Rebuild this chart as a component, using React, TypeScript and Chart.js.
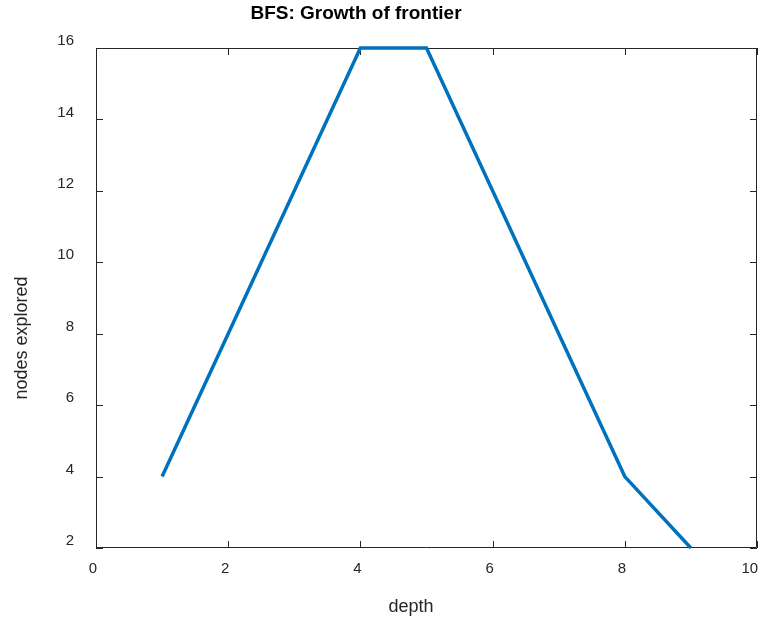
import React, { useEffect, useRef } from "react";
import { Chart, registerables } from "chart.js";

Chart.register(...registerables);

const depths = [1, 2, 3, 4, 5, 6, 7, 8, 9];
const nodesExplored = [4, 8, 12, 16, 16, 12, 8, 4, 2];
const titleText = "BFS: Growth of frontier";
const xLabel = "depth";
const yLabel = "nodes explored";

const AXIS_COLOR = "#262626";
const FONT = "'Liberation Sans', Arial, sans-serif";

const framePlugin = {
  id: "matlabFrame",
  beforeDatasetsDraw(chart: any) {
    const { ctx, chartArea, scales } = chart;
    const { left, right, top, bottom } = chartArea;
    ctx.save();
    ctx.strokeStyle = AXIS_COLOR;
    ctx.lineWidth = 1;
    ctx.beginPath();
    ctx.rect(left + 0.5, top + 0.5, right - left - 1, bottom - top - 1);
    ctx.stroke();
    const tl = 7;
    ctx.beginPath();
    scales.x.ticks.forEach((t: any) => {
      const px = Math.round(scales.x.getPixelForValue(t.value)) + 0.5;
      ctx.moveTo(px, bottom);
      ctx.lineTo(px, bottom - tl);
      ctx.moveTo(px, top);
      ctx.lineTo(px, top + tl);
    });
    scales.y.ticks.forEach((t: any) => {
      const py = Math.round(scales.y.getPixelForValue(t.value)) + 0.5;
      ctx.moveTo(left, py);
      ctx.lineTo(left + tl, py);
      ctx.moveTo(right, py);
      ctx.lineTo(right - tl, py);
    });
    ctx.stroke();

    ctx.fillStyle = "#000";
    ctx.textAlign = "center";
    ctx.textBaseline = "middle";
    ctx.font = `bold 19px ${FONT}`;
    ctx.fillText(titleText, 356, 14);
    ctx.fillStyle = AXIS_COLOR;
    ctx.font = `18px ${FONT}`;
    ctx.fillText(xLabel, 411, 607);
    ctx.translate(22, 338);
    ctx.rotate(-Math.PI / 2);
    ctx.fillText(yLabel, 0, 0);
    ctx.restore();
  },
};

export default function App() {
  const ref = useRef<HTMLCanvasElement | null>(null);
  useEffect(() => {
    if (!ref.current) return;
    const chart = new Chart(ref.current, {
      type: "line",
      data: {
        datasets: [
          {
            data: depths.map((d, i) => ({ x: d, y: nodesExplored[i] })),
            borderColor: "#0072BD",
            borderWidth: 3.5,
            pointRadius: 0,
            fill: false,
            tension: 0,
            clip: false as any,
          },
        ],
      },
      options: {
        animation: false,
        responsive: false,
        maintainAspectRatio: false,
        layout: { padding: { left: 0, top: 48, right: 2, bottom: 0 } },
        plugins: {
          legend: { display: false },
          tooltip: { enabled: false },
          title: { display: false },
        },
        scales: {
          x: {
            type: "linear",
            min: 0,
            max: 10,
            grid: { display: false, drawTicks: false },
            border: { display: false },
            ticks: {
              stepSize: 2,
              color: AXIS_COLOR,
              font: { family: FONT, size: 15 },
              padding: 12,
              labelOffset: -3,
              maxRotation: 0,
              callback: (v: any) => (v === 10 ? "10  " : String(v)),
            },
            afterFit(scale: any) {
              scale.height = 73;
              scale.paddingLeft = 0;
              scale.paddingRight = 0;
            },
          },
          y: {
            type: "linear",
            min: 2,
            max: 16,
            grid: { display: false, drawTicks: false },
            border: { display: false },
            ticks: {
              stepSize: 2,
              color: AXIS_COLOR,
              font: { family: FONT, size: 15 },
              padding: 22,
              labelOffset: -7,
            },
            afterFit(scale: any) {
              scale.width = 96;
              scale.paddingTop = 0;
              scale.paddingBottom = 0;
            },
          },
        },
      },
      plugins: [framePlugin],
    });
    return () => chart.destroy();
  }, []);
  return (
    <div style={{ position: "fixed", left: 0, top: 0, width: 759, height: 621, background: "#fff" }}>
      <canvas ref={ref} width={759} height={621} style={{ width: 759, height: 621 }} />
    </div>
  );
}
